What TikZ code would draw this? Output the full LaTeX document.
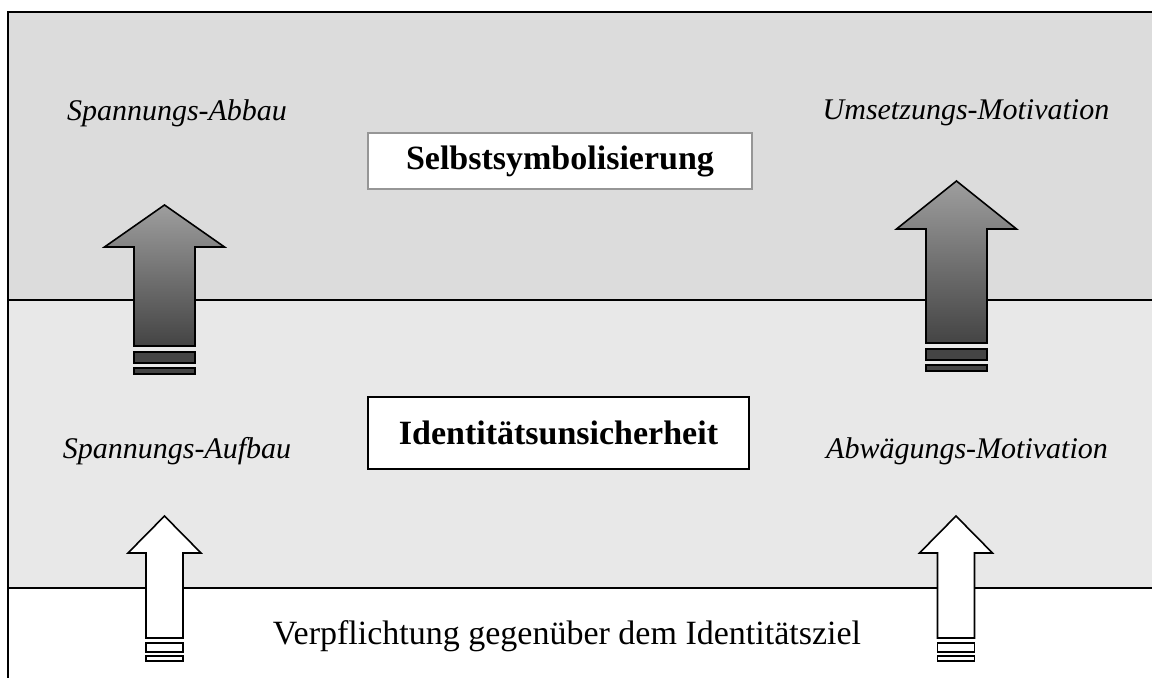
\documentclass[tikz,border=0pt]{standalone}
\usepackage{fontspec}
\setmainfont{Liberation Serif}
\usepackage{xcolor}
\usepackage{tikz}
\usetikzlibrary{positioning, calc}
\definecolor{bandtop}{RGB}{220,220,220}
\definecolor{bandmid}{RGB}{232,232,232}
\definecolor{arrowlight}{RGB}{158,158,158}
\definecolor{arrowdark}{RGB}{68,68,68}
\definecolor{boxedge}{RGB}{150,150,150}

\begin{document}
\begin{tikzpicture}[x=0.5pt,y=-0.5pt,
  every node/.style={font=\fontsize{17}{20}\selectfont},
  motive/.style={font=\fontsize{15}{18}\selectfont\itshape},
  statebox/.style={draw,fill=white,font=\fontsize{17}{20}\selectfont\bfseries},
  grayarrow/.style={draw,line width=0.8pt,top color=arrowlight,bottom color=arrowdark},
  grayblock/.style={draw,line width=0.8pt,fill=arrowdark},
  whitearrow/.style={draw,line width=0.8pt,fill=white}]
\useasboundingbox (0,0) rectangle (1152,678);

% Bands
\fill[bandtop] (8,12) rectangle (1152,300);
\fill[bandmid] (8,300) rectangle (1152,588);
\draw[line width=1pt] (1152,12) -- (8,12) -- (8,678);
\draw[line width=1pt] (8,300) -- (1152,300);
\draw[line width=1pt] (8,588) -- (1152,588);

% Labels
\node[motive] (abbau) at (177,113) {Spannungs-Abbau};
\node[motive] (umsetzung) at (966,113) {Umsetzungs-Motivation};
\node[motive] (aufbau) at (177,451) {Spannungs-Aufbau};
\node[motive] (abwaegung) at (967,451) {Abwägungs-Motivation};
\node (verpflichtung) at (567,636) {Verpflichtung gegenüber dem Identitätsziel};

% Boxes
\node[statebox,draw=boxedge,line width=0.8pt,minimum width=192pt,minimum height=28pt] (selbst) at (560,161) {Selbstsymbolisierung};
\node[statebox,line width=0.9pt,minimum width=190.5pt,minimum height=36pt] (unsicher) at (558.5,433) {Identitätsunsicherheit};

% Gray arrows
\foreach \cx/\tip/\hb/\sb in {164.5/205/247/346, 956.5/181/229/343}{
  \draw[grayarrow] ({\cx},\tip) -- ({\cx+60},\hb) -- ({\cx+30.5},\hb) -- ({\cx+30.5},\sb)
    -- ({\cx-30.5},\sb) -- ({\cx-30.5},\hb) -- ({\cx-60},\hb) -- cycle;
  \draw[grayblock] ({\cx-30.5},{\sb+6}) rectangle ({\cx+30.5},{\sb+17});
  \draw[grayblock] ({\cx-30.5},{\sb+22}) rectangle ({\cx+30.5},{\sb+28});
}

% White arrows
\foreach \cx in {164.5, 956}{
  \draw[whitearrow] ({\cx},516) -- ({\cx+36.5},553) -- ({\cx+18.5},553) -- ({\cx+18.5},638)
    -- ({\cx-18.5},638) -- ({\cx-18.5},553) -- ({\cx-36.5},553) -- cycle;
  \draw[whitearrow] ({\cx-18.5},643) rectangle ({\cx+18.5},652);
  \draw[whitearrow] ({\cx-18.5},656) rectangle ({\cx+18.5},661);
}
\end{tikzpicture}
\end{document}
